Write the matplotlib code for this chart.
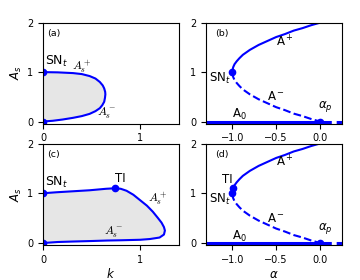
import matplotlib
matplotlib.use('Agg')
import matplotlib.pyplot as plt

# (a) closed branch in the (k, A_s) plane, upper branch then lower branch
k_a = [0, 0.15, 0.31, 0.4, 0.48, 0.54, 0.585, 0.615, 0.63, 0.64, 0.642,
       0.638, 0.63, 0.61, 0.585, 0.54, 0.48, 0.4, 0.31, 0.2, 0.1, 0]
As_a = [1.0, 0.995, 0.98, 0.96, 0.92, 0.87, 0.8, 0.73, 0.67, 0.6, 0.55,
        0.48, 0.4, 0.33, 0.27, 0.21, 0.155, 0.11, 0.075, 0.04, 0.015, 0]

# (c) closed branch with the TI point
k_c = [0, 0.14, 0.31, 0.48, 0.65, 0.74, 0.8, 0.86, 0.93, 1.0, 1.07, 1.13,
       1.18, 1.22, 1.245, 1.255, 1.245, 1.2, 1.1, 1.0, 0.8, 0.66, 0.5, 0.31, 0.15, 0]
As_c = [1.0, 1.02, 1.04, 1.06, 1.09, 1.1, 1.09, 1.05, 0.97, 0.86, 0.75, 0.63,
        0.51, 0.41, 0.32, 0.25, 0.17, 0.11, 0.08, 0.065, 0.055, 0.05, 0.04, 0.03, 0.02, 0]
k_TI = 0.74
As_TI = 1.1

# (b), (d) branches against alpha
alpha = [-1, -0.998, -0.99, -0.975, -0.95, -0.92, -0.88, -0.84, -0.8, -0.75,
         -0.7, -0.6, -0.5, -0.4, -0.3, -0.2, -0.1, 0]
A_plus = [1, 1.04, 1.1, 1.16, 1.22, 1.28, 1.35, 1.4, 1.45, 1.5,
          1.55, 1.63, 1.71, 1.77, 1.84, 1.89, 1.95, 2.0]
A_minus = [1, 0.96, 0.9, 0.84, 0.78, 0.72, 0.65, 0.6, 0.55, 0.5,
           0.45, 0.37, 0.29, 0.23, 0.16, 0.11, 0.05, 0.0]
alpha_SN = -1.0
alpha_TI = -0.99
alpha_p = 0.0

plt.rcParams['font.size'] = 7
fig = plt.figure(figsize=(3.6, 2.8), dpi=100)
W, H = 360, 280


def add_ax(x0, x1, y0, y1):
    return fig.add_axes([x0 / W, 1 - y1 / H, (x1 - x0) / W, (y1 - y0) / H])


ax_a = add_ax(43, 179, 22.7, 123.5)
ax_b = add_ax(206, 342, 22.7, 123.5)
ax_c = add_ax(43, 179, 143.5, 245)
ax_d = add_ax(206, 342, 143.5, 245)

blue = '#0000ff'
serif = dict(math_fontfamily='cm', fontsize=8.5)
fs = 8.5

for ax, kk, aa, lab in [(ax_a, k_a, As_a, '(a)'), (ax_c, k_c, As_c, '(c)')]:
    ax.fill(kk, aa, color='0.9', lw=0)
    ax.plot(kk, aa, color=blue, lw=1.5)
    ax.plot([0, 0], [1, 0], 'o', color=blue, ms=4.5)
    ax.set_xlim(0, 1.4)
    ax.set_ylim(-0.04, 2)
    ax.set_xticks([0, 1])
    ax.set_yticks([0, 1, 2])
    ax.set_ylabel('$A_s$', fontsize=8.5, labelpad=2)
    ax.text(0.03, 0.87, lab, transform=ax.transAxes, fontsize=6.8)
    ax.text(0.02, 1.07, 'SN$_t$', fontsize=9, va='bottom')

ax_a.text(0.4, 1.1, '$A_s^+$', ha='center', va='center', **serif)
ax_a.text(0.66, 0.17, '$A_s^-$', ha='center', va='center', **serif)
ax_c.plot(k_TI, As_TI, 'o', color=blue, ms=4.5)
ax_c.text(k_TI, 1.16, 'TI', fontsize=fs, va='bottom')
ax_c.text(1.18, 0.88, '$A_s^+$', ha='center', va='center', **serif)
ax_c.text(0.73, 0.21, '$A_s^-$', ha='center', va='center', **serif)
ax_c.set_xlabel('$k$', fontsize=8.5, labelpad=2)

for ax, lab in [(ax_b, '(b)'), (ax_d, '(d)')]:
    ax.plot(alpha, A_plus, color=blue, lw=1.5)
    ax.plot(alpha, A_minus, color=blue, lw=1.5, ls='--')
    ax.plot([-1.3, alpha_p], [0, 0], color=blue, lw=2.2)
    ax.plot([alpha_p, 0.25], [0, 0], color=blue, lw=2.2, ls='--')
    ax.plot(alpha_SN, 1, 'o', color=blue, ms=4.5)
    ax.plot(alpha_p, 0, 'o', color=blue, ms=4.5)
    ax.set_xlim(-1.3, 0.25)
    ax.set_ylim(-0.04, 2)
    ax.set_xticks([-1.0, -0.5, 0.0])
    ax.set_yticks([0, 1, 2])
    ax.text(0.07, 0.87, lab, transform=ax.transAxes, fontsize=6.8)
    ax.text(-0.4, 1.62, 'A$^+$', fontsize=fs, ha='center', va='center')
    ax.text(-0.5, 0.5, 'A$^-$', fontsize=fs, ha='center', va='center')
    ax.text(-0.92, 0.14, 'A$_0$', fontsize=fs, ha='center', va='center')
    ax.text(0.065, 0.3, r'$\alpha_p$', fontsize=fs, ha='center', va='center')
    ax.text(-1.02, 0.88, 'SN$_t$', fontsize=fs, ha='right', va='center')

ax_d.plot(alpha_TI, 1.1, 'o', color=blue, ms=4.5)
ax_d.text(-1.06, 1.27, 'TI', fontsize=fs, ha='center', va='center')
ax_d.set_xlabel(r'$\alpha$', fontsize=8.5, labelpad=2)

fig.savefig('out.png', dpi=100)
